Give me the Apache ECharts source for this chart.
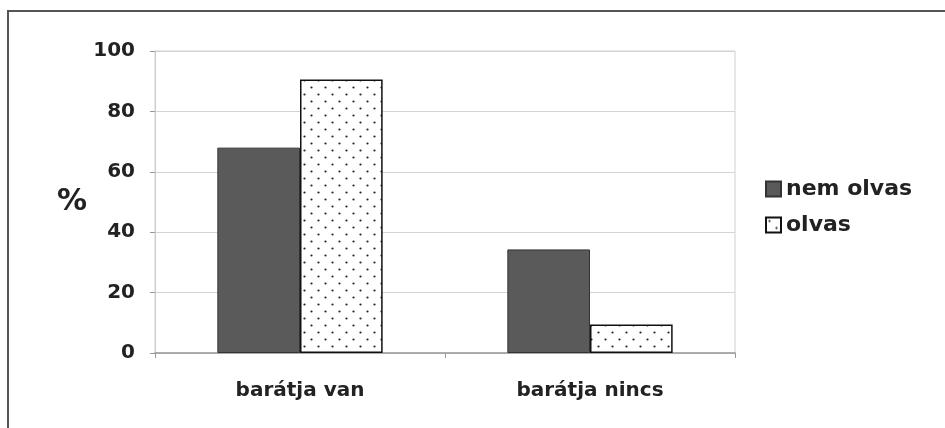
<!DOCTYPE html>
<html>
<head>
<meta charset="utf-8">
<script src="https://cdn.jsdelivr.net/npm/echarts@6/dist/echarts.min.js"></script>
<style>
html,body{margin:0;padding:0;background:#fff;}
#chart{width:945px;height:428px;}
</style>
</head>
<body>
<div id="chart"></div>
<script>
const categories = ['barátja van', 'barátja nincs'];
const seriesNames = ['nem olvas', 'olvas'];
const nemOlvas = [68, 34.3];
const olvas = [90.6, 9.4];
const yMin = 0, yMax = 100, yStep = 20;

function dotPattern() {
  const c = document.createElement('canvas');
  c.width = 14; c.height = 14;
  const ctx = c.getContext('2d');
  ctx.fillStyle = '#ffffff';
  ctx.fillRect(0, 0, 14, 14);
  ctx.fillStyle = '#222222';
  ctx.beginPath(); ctx.arc(3.5, 3.5, 1.1, 0, Math.PI * 2); ctx.fill();
  ctx.beginPath(); ctx.arc(10.5, 10.5, 1.1, 0, Math.PI * 2); ctx.fill();
  return c;
}

const FONT = '"DejaVu Sans", sans-serif';
const chart = echarts.init(document.getElementById('chart'), null, {renderer: 'canvas'});
chart.setOption({
  backgroundColor: '#ffffff',
  animation: false,
  graphic: [{
    type: 'rect',
    shape: {x: 8, y: 11, width: 960, height: 440},
    style: {fill: 'none', stroke: '#555555', lineWidth: 2},
    silent: true
  }],
  grid: {left: 155, right: 210, top: 51, bottom: 75, show: true, borderColor: '#d0d0d0', borderWidth: 1},
  legend: {
    orient: 'vertical',
    left: 760,
    top: 173,
    icon: 'rect',
    itemWidth: 15,
    itemHeight: 15,
    itemGap: 14,
    textStyle: {fontFamily: FONT, fontWeight: 'bold', fontSize: 22, color: '#222'},
    data: seriesNames
  },
  xAxis: {
    type: 'category',
    data: categories,
    axisLine: {lineStyle: {color: '#999', width: 1.5}},
    axisTick: {show: true, length: 5, lineStyle: {color: '#999'}},
    axisLabel: {fontFamily: FONT, fontWeight: 'bold', fontSize: 20, color: '#222', margin: 28}
  },
  yAxis: {
    type: 'value',
    min: yMin, max: yMax, interval: yStep,
    name: '%',
    nameLocation: 'middle',
    nameRotate: 0,
    nameGap: 68,
    nameTextStyle: {fontFamily: FONT, fontWeight: 'bold', fontSize: 30, color: '#222', padding: [10, 0, 0, 0]},
    axisLine: {show: true, lineStyle: {color: '#ccc'}},
    axisTick: {show: true, length: 5, lineStyle: {color: '#999'}},
    splitLine: {lineStyle: {color: '#d4d4d4', width: 1}},
    axisLabel: {fontFamily: FONT, fontWeight: 'bold', fontSize: 20, color: '#222', margin: 20}
  },
  series: [{
    name: seriesNames[0],
    type: 'bar',
    data: nemOlvas,
    barGap: '0%',
    barCategoryGap: '43%',
    itemStyle: {color: '#5a5a5a', borderColor: '#333', borderWidth: 1}
  }, {
    name: seriesNames[1],
    type: 'bar',
    data: olvas,
    itemStyle: {color: {image: dotPattern(), repeat: 'repeat'}, borderColor: '#111', borderWidth: 1.5}
  }]
});
</script>
</body>
</html>
